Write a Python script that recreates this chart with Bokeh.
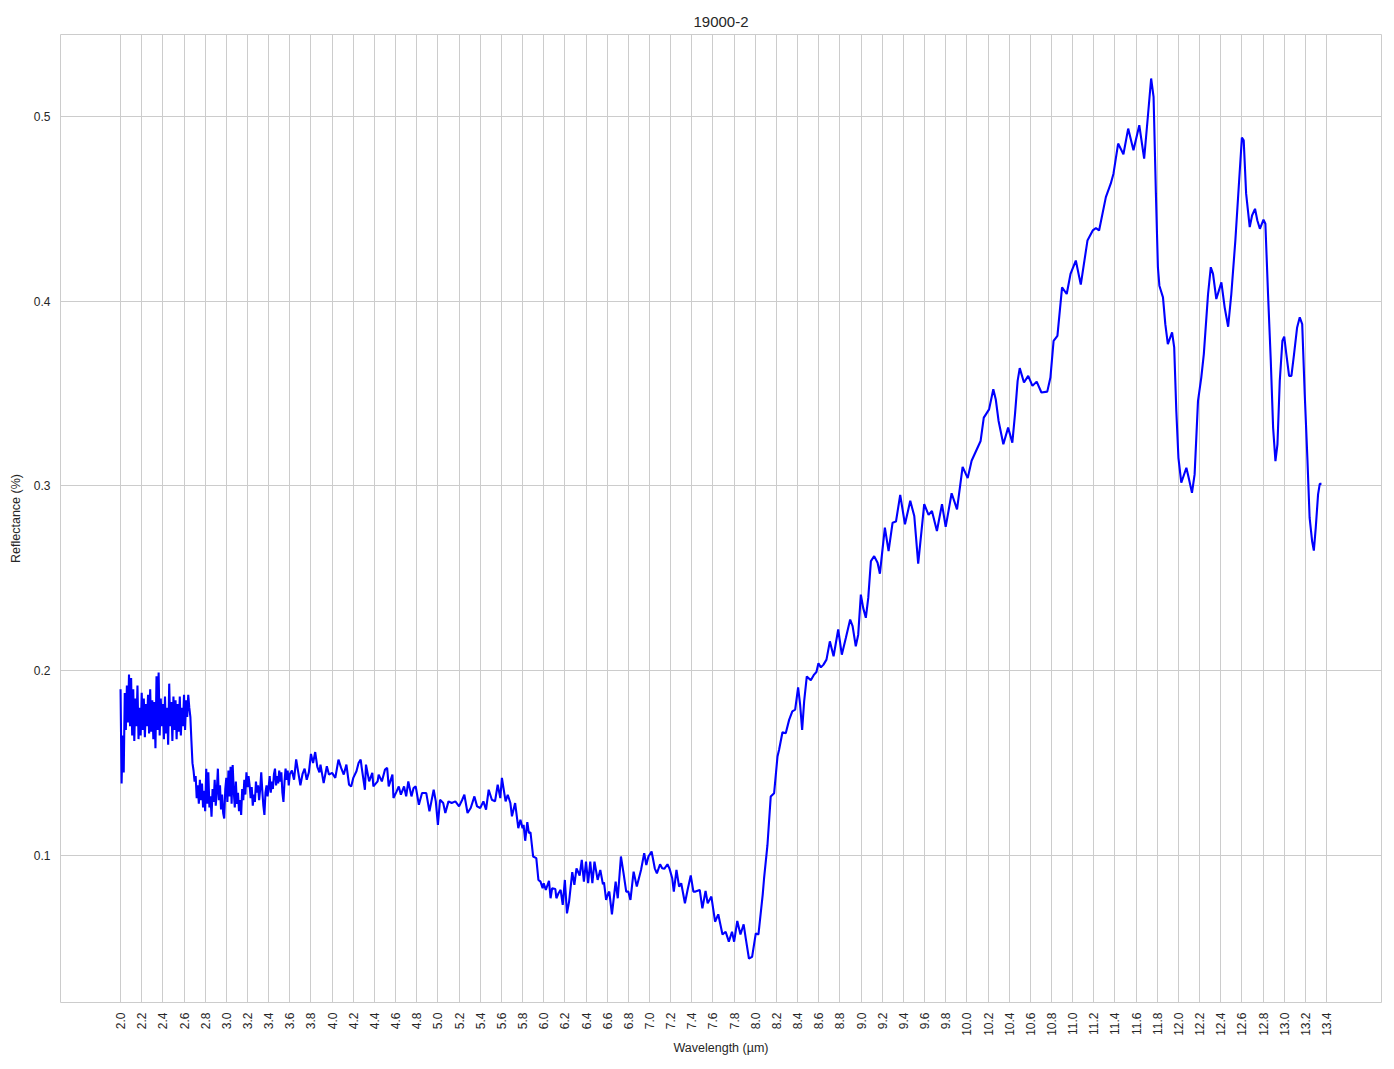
import numpy as np
from bokeh.plotting import figure
from bokeh.models import FixedTicker, Range1d
from bokeh.embed import file_html
from bokeh.resources import INLINE

# ---------------- data ----------------
# noisy start, sampled every 0.01 um
wl_a = np.round(np.arange(2.00, 2.705, 0.01), 2)
refl_a = [0.190, 0.139, 0.165, 0.145, 0.188, 0.168, 0.192, 0.172, 0.198, 0.170,
          0.196, 0.165, 0.190, 0.162, 0.185, 0.170, 0.192, 0.163, 0.180, 0.165,
          0.188, 0.168, 0.185, 0.164, 0.182, 0.170, 0.187, 0.166, 0.190, 0.167,
          0.184, 0.163, 0.183, 0.158, 0.197, 0.168, 0.199, 0.165, 0.185, 0.170,
          0.182, 0.163, 0.186, 0.166, 0.180, 0.160, 0.193, 0.170, 0.183, 0.162,
          0.186, 0.168, 0.184, 0.163, 0.182, 0.167, 0.186, 0.165, 0.180, 0.170,
          0.187, 0.168, 0.184, 0.175, 0.187, 0.180, 0.175, 0.162, 0.150, 0.146,
          0.140]

wl_b = np.round(np.arange(2.71, 3.605, 0.01), 2)
refl_b = [0.143, 0.131, 0.138, 0.128, 0.141, 0.130, 0.139, 0.126, 0.135, 0.124,
          0.147, 0.128, 0.145, 0.126, 0.132, 0.121, 0.136, 0.129, 0.141, 0.127,
          0.135, 0.147, 0.130, 0.138, 0.125, 0.133, 0.123, 0.120, 0.136, 0.142,
          0.129, 0.146, 0.132, 0.148, 0.128, 0.149, 0.135, 0.126, 0.140, 0.128,
          0.134, 0.124, 0.130, 0.122, 0.136, 0.130, 0.141, 0.133, 0.145, 0.137,
          0.143, 0.138, 0.131, 0.137, 0.127, 0.133, 0.129, 0.140, 0.134, 0.138,
          0.130, 0.136, 0.145, 0.135, 0.127, 0.122, 0.134, 0.138, 0.132, 0.137,
          0.143, 0.134, 0.140, 0.136, 0.144, 0.147, 0.138, 0.143, 0.139, 0.146,
          0.140, 0.145, 0.134, 0.129, 0.140, 0.147, 0.141, 0.146, 0.138, 0.144]

wl_c = [3.62, 3.64, 3.66, 3.68, 3.70, 3.72, 3.74, 3.76, 3.78, 3.80, 3.82, 3.84, 3.86, 3.88]
refl_c = [0.146, 0.141, 0.152, 0.145, 0.138, 0.144, 0.147, 0.141, 0.145, 0.155, 0.150, 0.156, 0.148, 0.145]

wl_d = [3.89, 3.92, 3.95, 3.97, 4.00, 4.03, 4.06, 4.085, 4.11, 4.135, 4.16, 4.18, 4.20, 4.23, 4.25,
        4.27, 4.28, 4.31, 4.32, 4.35, 4.38, 4.39, 4.43, 4.44, 4.47, 4.50, 4.52, 4.535, 4.57, 4.58,
        4.61, 4.63, 4.65, 4.68, 4.70, 4.72, 4.75, 4.77, 4.79, 4.82, 4.85, 4.89, 4.92, 4.96, 4.98,
        5.00, 5.02, 5.05, 5.07, 5.10, 5.13, 5.165, 5.20, 5.23, 5.25, 5.28, 5.31, 5.345, 5.37, 5.40,
        5.43, 5.455, 5.48, 5.51, 5.54, 5.565, 5.59, 5.605, 5.62, 5.64, 5.66, 5.685, 5.70, 5.73, 5.76,
        5.78, 5.80]
refl_d = [0.1492, 0.1392, 0.1483, 0.1438, 0.1447, 0.1420, 0.1519, 0.1474, 0.1438, 0.1492, 0.1383, 0.1374, 0.1420, 0.1456, 0.1501,
          0.1519, 0.1474, 0.1356, 0.1492, 0.1401, 0.1447, 0.1374, 0.1401, 0.1438, 0.1401, 0.1465, 0.1474, 0.1374, 0.1438, 0.1311,
          0.1347, 0.1374, 0.1329, 0.1374, 0.1320, 0.1401, 0.1320, 0.1365, 0.1374, 0.1275, 0.1338, 0.1338, 0.1239, 0.1356, 0.1293,
          0.1166, 0.1302, 0.1284, 0.1230, 0.1293, 0.1284, 0.1293, 0.1266, 0.1302, 0.1329, 0.1230, 0.1257, 0.1320, 0.1266, 0.1257,
          0.1293, 0.1248, 0.1356, 0.1302, 0.1293, 0.1383, 0.1311, 0.1420, 0.1365, 0.1293, 0.1329, 0.1284, 0.1212, 0.1284, 0.1148,
          0.1194, 0.1148]

wl_e = [5.81, 5.825, 5.845, 5.86, 5.875, 5.90, 5.93, 5.95, 5.97, 5.99, 6.00, 6.02, 6.05, 6.065, 6.08,
        6.11, 6.12, 6.14, 6.16, 6.18, 6.20, 6.22, 6.24, 6.27, 6.29, 6.31, 6.34, 6.36, 6.38, 6.40,
        6.42, 6.44, 6.46, 6.48, 6.51, 6.535, 6.56, 6.57, 6.59, 6.61, 6.62, 6.645, 6.68, 6.70, 6.73,
        6.755, 6.78, 6.80, 6.82, 6.85, 6.88, 6.92, 6.95, 6.97, 6.99, 7.02, 7.05, 7.07, 7.10, 7.12,
        7.14, 7.17, 7.19, 7.215, 7.23, 7.255, 7.28, 7.30, 7.335, 7.36, 7.39, 7.415, 7.435, 7.475, 7.50,
        7.53, 7.55, 7.585, 7.62, 7.65, 7.69, 7.72, 7.75, 7.78, 7.80, 7.83, 7.86, 7.89, 7.91, 7.94,
        7.97, 7.99, 8.005, 8.03, 8.07]
refl_e = [0.1166, 0.1080, 0.1181, 0.1121, 0.1126, 0.0995, 0.0986, 0.0868, 0.0859, 0.0823, 0.0850, 0.0814, 0.0863, 0.0769, 0.0823,
          0.0819, 0.0769, 0.0796, 0.0814, 0.0733, 0.0868, 0.0687, 0.0751, 0.0910, 0.0841, 0.0931, 0.0892, 0.0977, 0.0859, 0.0967,
          0.0850, 0.0967, 0.0850, 0.0967, 0.0868, 0.0922, 0.0844, 0.0855, 0.0760, 0.0796, 0.0805, 0.0682, 0.0859, 0.0769, 0.0995,
          0.0904, 0.0805, 0.0805, 0.0760, 0.0913, 0.0832, 0.0922, 0.1013, 0.0949, 0.0995, 0.1022, 0.0931, 0.0904, 0.0953, 0.0931,
          0.0928, 0.0953, 0.0928, 0.0877, 0.0805, 0.0922, 0.0832, 0.0850, 0.0742, 0.0814, 0.0892, 0.0805, 0.0805, 0.0814, 0.0714,
          0.0809, 0.0742, 0.0778, 0.0642, 0.0682, 0.0573, 0.0588, 0.0534, 0.0588, 0.0534, 0.0646, 0.0573, 0.0628, 0.0552, 0.0443,
          0.0452, 0.0525, 0.0579, 0.0573, 0.0787]

wl_f = [8.083, 8.115, 8.146, 8.178, 8.21, 8.225, 8.257, 8.288, 8.32, 8.35, 8.377, 8.405, 8.424, 8.443, 8.462,
        8.487, 8.525, 8.556, 8.578, 8.597, 8.62, 8.645, 8.673, 8.705, 8.74, 8.784, 8.818, 8.856, 8.897, 8.92,
        8.95, 8.973, 8.998, 9.02, 9.045, 9.068, 9.093, 9.124, 9.156, 9.178, 9.225, 9.26, 9.298, 9.33, 9.37,
        9.415, 9.465, 9.503, 9.54, 9.597, 9.638, 9.67, 9.717, 9.765, 9.80, 9.856, 9.907, 9.96, 10.008, 10.045]
refl_f = [0.0876, 0.1056, 0.1319, 0.1337, 0.1536, 0.1572, 0.1667, 0.1662, 0.1734, 0.1780, 0.1789, 0.1910, 0.1816, 0.1680, 0.1834,
          0.1969, 0.1948, 0.1979, 0.1993, 0.2040, 0.2018, 0.2033, 0.2060, 0.2159, 0.2078, 0.2223, 0.2087, 0.2177, 0.2277, 0.2241,
          0.2132, 0.2195, 0.2412, 0.2340, 0.2286, 0.2394, 0.2593, 0.2620, 0.2584, 0.2525, 0.2774, 0.2647, 0.2801, 0.2807, 0.2951,
          0.2792, 0.2919, 0.2837, 0.2579, 0.2901, 0.2843, 0.2864, 0.2756, 0.2901, 0.2778, 0.2960, 0.2873, 0.3103, 0.3042, 0.3136]

wl_g = [10.13, 10.16, 10.18, 10.21, 10.25, 10.273, 10.30, 10.345, 10.39, 10.43, 10.455, 10.48, 10.50, 10.54, 10.58,
        10.62, 10.66, 10.705, 10.76, 10.79, 10.82, 10.856, 10.90, 10.944, 10.98, 11.03, 11.077, 11.14, 11.19, 11.22,
        11.25, 11.314, 11.36, 11.386, 11.43, 11.48, 11.525, 11.575, 11.63, 11.676, 11.708]
refl_g = [0.3243, 0.3369, 0.3387, 0.3414, 0.3523, 0.3469, 0.3351, 0.3225, 0.3315, 0.3234, 0.3387, 0.3568, 0.3637, 0.3559, 0.3595,
          0.3541, 0.3564, 0.3505, 0.3510, 0.3586, 0.3785, 0.3812, 0.4074, 0.4038, 0.4147, 0.4219, 0.4089, 0.4327, 0.4382, 0.4394,
          0.4382, 0.4562, 0.4635, 0.4689, 0.4852, 0.4794, 0.4933, 0.4816, 0.4951, 0.4770, 0.4978]

wl_h = [11.742, 11.765, 11.787, 11.806, 11.82, 11.854, 11.876, 11.90, 11.94, 11.96, 11.98, 12.00, 12.027, 12.075, 12.097,
        12.128, 12.153, 12.185, 12.216, 12.24, 12.28, 12.306, 12.327, 12.358, 12.406, 12.437, 12.47, 12.50, 12.538, 12.57,
        12.60, 12.617, 12.64, 12.674, 12.696, 12.724, 12.746, 12.77, 12.804, 12.822, 12.847, 12.873, 12.895, 12.917, 12.936,
        12.958, 12.983, 13.0, 13.02, 13.046, 13.068, 13.093, 13.122, 13.147, 13.17, 13.194, 13.22, 13.24, 13.264, 13.28,
        13.298, 13.32, 13.336, 13.352]
refl_h = [0.5204, 0.5105, 0.4581, 0.4183, 0.4083, 0.4020, 0.3875, 0.3767, 0.3830, 0.3749, 0.3405, 0.3152, 0.3017, 0.3098, 0.3044,
          0.2962, 0.3062, 0.3460, 0.3586, 0.3713, 0.4038, 0.4183, 0.4147, 0.4011, 0.4101, 0.3966, 0.3861, 0.4038, 0.4327, 0.4617,
          0.4884, 0.4870, 0.4581, 0.4400, 0.4463, 0.4499, 0.4436, 0.4391, 0.4440, 0.4418, 0.4038, 0.3677, 0.3315, 0.3134, 0.3225,
          0.3568, 0.3785, 0.3807, 0.3713, 0.3595, 0.3595, 0.3713, 0.3857, 0.3912, 0.3875, 0.3496, 0.3134, 0.2828, 0.2700, 0.2650,
          0.2773, 0.2954, 0.3011, 0.3011]

x_ticks = [round(2.0 + 0.2 * i, 1) for i in range(58)]
x_tick_labels = ["%.1f" % t for t in x_ticks]
y_ticks = [0.1, 0.2, 0.3, 0.4, 0.5]
y_tick_labels = ["0.1", "0.2", "0.3", "0.4", "0.5"]

title_text = "19000-2"
x_label = "Wavelength (\u00b5m)"
y_label = "Reflectance (%)"

# ---------------- assemble ----------------
wl = np.concatenate([wl_a, wl_b, wl_c, wl_d, wl_e, wl_f, wl_g, wl_h])
refl = np.concatenate([refl_a, refl_b, refl_c, refl_d, refl_e, refl_f, refl_g, refl_h])

xpad = 0.05 * (wl.max() - wl.min())
ypad = 0.05 * (refl.max() - refl.min())

FONT = "Liberation Sans"
TXT = "#262626"
GRID = "#cccccc"

p = figure(width=1386, height=1061, output_backend="svg", toolbar_location=None,
           x_range=Range1d(wl.min() - xpad, wl.max() + xpad),
           y_range=Range1d(refl.min() - ypad, refl.max() + ypad),
           min_border_left=60, min_border_right=5, min_border_top=34, min_border_bottom=59,
           title=title_text)

p.line(wl, refl, line_color="#0000ff", line_width=2.1)

p.title.align = "center"
p.title.text_font = FONT
p.title.text_font_size = "15px"
p.title.text_font_style = "normal"
p.title.text_color = TXT
p.title.standoff = 15

p.outline_line_color = GRID
p.outline_line_width = 1
p.background_fill_color = "white"
p.border_fill_color = "white"

for g in (p.xgrid[0], p.ygrid[0]):
    g.grid_line_color = GRID
    g.grid_line_width = 1

p.xaxis.ticker = FixedTicker(ticks=x_ticks)
p.xaxis.major_label_overrides = {t: l for t, l in zip(x_ticks, x_tick_labels)}
p.xaxis.major_label_orientation = np.pi / 2
p.yaxis.ticker = FixedTicker(ticks=y_ticks)
p.yaxis.major_label_overrides = {t: l for t, l in zip(y_ticks, y_tick_labels)}

for ax in (p.xaxis[0], p.yaxis[0]):
    ax.axis_line_color = None
    ax.major_tick_line_color = None
    ax.minor_tick_line_color = None
    ax.major_tick_out = 0
    ax.major_tick_in = 0
    ax.minor_tick_out = 0
    ax.minor_tick_in = 0
    ax.major_label_text_font = FONT
    ax.major_label_text_font_size = "12px"
    ax.major_label_text_color = TXT
    ax.major_label_standoff = 10
    ax.axis_label_text_font = FONT
    ax.axis_label_text_font_size = "12.5px"
    ax.axis_label_text_font_style = "normal"
    ax.axis_label_text_color = TXT

p.xaxis.axis_label = x_label
p.yaxis.axis_label = y_label
p.xaxis.axis_label_standoff = 2
p.yaxis.axis_label_standoff = 8

open("out.html", "w").write(file_html(p, INLINE))
